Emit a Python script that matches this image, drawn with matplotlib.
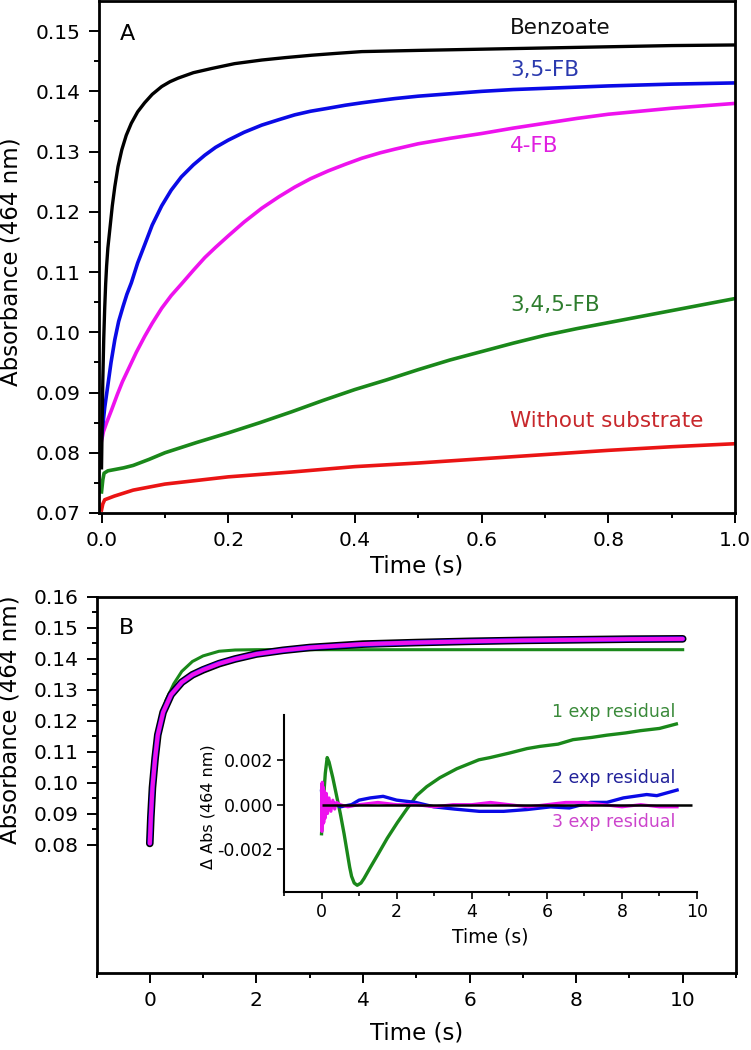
import numpy as np
import matplotlib
matplotlib.use("Agg")
import matplotlib.pyplot as plt
from matplotlib.ticker import FixedLocator, FormatStrFormatter

# ---------------- panel A : traces at 464 nm, first second ----------------
t_benzoate = [0, 0.001, 0.002, 0.0035, 0.005, 0.0065, 0.008, 0.010, 0.013, 0.017, 0.021,
              0.026, 0.032, 0.039, 0.047, 0.057, 0.068, 0.080, 0.095, 0.108, 0.121, 0.145,
              0.174, 0.21, 0.253, 0.29, 0.332, 0.37, 0.411, 0.5, 0.6, 0.7, 0.8, 0.9, 1.0]
a_benzoate = [0.0775, 0.085, 0.092, 0.099, 0.1040, 0.1080, 0.1110, 0.1140, 0.1170, 0.1210, 0.1242,
              0.1275, 0.1303, 0.1327, 0.1347, 0.1366, 0.1381, 0.1395, 0.1408, 0.1416, 0.1422, 0.1431,
              0.1438, 0.1446, 0.1452, 0.1456, 0.1460, 0.1463, 0.1466, 0.1468, 0.1470, 0.1472,
              0.1474, 0.1476, 0.1477]

t_35fb = [0, 0.002, 0.005, 0.0105, 0.015, 0.021, 0.027, 0.034, 0.040, 0.047, 0.057, 0.068,
          0.080, 0.095, 0.110, 0.126, 0.145, 0.163, 0.180, 0.2, 0.225, 0.253, 0.28, 0.305,
          0.33, 0.358, 0.385, 0.411, 0.44, 0.463, 0.5, 0.55, 0.6, 0.65, 0.7, 0.8, 0.9, 1.0]
a_35fb = [0.0825, 0.0845, 0.0875, 0.0916, 0.0950, 0.0988, 0.1018, 0.1043, 0.1063, 0.1082,
          0.1115, 0.1145, 0.1178, 0.1210, 0.1236, 0.1258, 0.1278, 0.1294, 0.1307, 0.1319,
          0.1332, 0.1344, 0.1353, 0.1361, 0.1367, 0.1372, 0.1377, 0.1381, 0.1385, 0.1388,
          0.1392, 0.1396, 0.1400, 0.1403, 0.1405, 0.1409, 0.1412, 0.1414]

t_4fb = [0, 0.003, 0.008, 0.0158, 0.025, 0.033, 0.042, 0.055, 0.068, 0.080, 0.095, 0.110,
         0.126, 0.145, 0.163, 0.180, 0.2, 0.225, 0.253, 0.28, 0.305, 0.33, 0.358, 0.385,
         0.411, 0.44, 0.463, 0.5, 0.55, 0.6, 0.65, 0.7, 0.75, 0.8, 0.85, 0.9, 0.95, 1.0]
a_4fb = [0.0820, 0.0835, 0.0850, 0.0871, 0.0897, 0.0918, 0.0938, 0.0967, 0.0993, 0.1015,
         0.1040, 0.1061, 0.1080, 0.1103, 0.1124, 0.1141, 0.1160, 0.1183, 0.1206, 0.1225,
         0.1241, 0.1255, 0.1268, 0.1279, 0.1289, 0.1298, 0.1304, 0.1313, 0.1322, 0.1330,
         0.1339, 0.1347, 0.1355, 0.1362, 0.1367, 0.1372, 0.1376, 0.1380]

t_345fb = [0, 0.002, 0.004, 0.01, 0.02, 0.035, 0.05, 0.075, 0.1, 0.15, 0.2, 0.25, 0.3,
           0.35, 0.4, 0.45, 0.5, 0.55, 0.6, 0.65, 0.7, 0.75, 0.8, 0.85, 0.9, 0.95, 1.0]
a_345fb = [0.0735, 0.0755, 0.0766, 0.0770, 0.0772, 0.0775, 0.0779, 0.0789, 0.0800, 0.0817,
           0.0833, 0.0850, 0.0868, 0.0887, 0.0905, 0.0921, 0.0938, 0.0954, 0.0968, 0.0982,
           0.0995, 0.1006, 0.1016, 0.1026, 0.1036, 0.1046, 0.1056]

t_nosub = [0, 0.002, 0.005, 0.02, 0.05, 0.1, 0.2, 0.3, 0.4, 0.5, 0.6, 0.7, 0.8, 0.9, 1.0]
a_nosub = [0.0705, 0.0715, 0.0722, 0.0728, 0.0738, 0.0748, 0.0760, 0.0768, 0.0777, 0.0783,
           0.0790, 0.0797, 0.0804, 0.0810, 0.0815]

# ---------------- panel B : benzoate trace over 10 s with fits ----------------
t_data = [0, 0.02, 0.05, 0.1, 0.15, 0.25, 0.4, 0.6, 0.8, 1.0, 1.3, 1.6, 2.0, 2.5, 3.0,
          4.0, 5.0, 6.0, 7.0, 8.0, 9.0, 10.0]
a_data = [0.0805, 0.0890, 0.0985, 0.1080, 0.1155, 0.1228, 0.1285, 0.1325, 0.1349, 0.1365,
          0.1385, 0.1400, 0.1416, 0.1428, 0.1437, 0.1448, 0.1453, 0.1457, 0.1460, 0.1462,
          0.1464, 0.1465]
a_fit2 = [0.0806, 0.0891, 0.0986, 0.1081, 0.1155, 0.1228, 0.1285, 0.1325, 0.1349, 0.1366,
          0.1386, 0.1400, 0.1416, 0.1428, 0.1437, 0.1447, 0.1453, 0.1457, 0.1460, 0.1462,
          0.1464, 0.1465]
a_fit3 = [0.0805, 0.0890, 0.0985, 0.1080, 0.1155, 0.1228, 0.1285, 0.1325, 0.1349, 0.1365,
          0.1385, 0.1400, 0.1416, 0.1428, 0.1437, 0.1448, 0.1453, 0.1457, 0.1460, 0.1462,
          0.1464, 0.1465]

t_fit1 = [0, 0.05, 0.1, 0.2, 0.3, 0.45, 0.6, 0.8, 1.0, 1.3, 1.6, 2.0, 3.0, 5.0, 10.0]
a_fit1 = [0.0805, 0.0960, 0.1060, 0.1190, 0.1265, 0.1320, 0.1360, 0.1392, 0.1410, 0.1425,
          0.1429, 0.1430, 0.1430, 0.1430, 0.1430]

# inset: residuals of the 1-, 2- and 3-exponential fits
t_res1 = [0, 0.05, 0.1, 0.15, 0.2, 0.3, 0.4, 0.5, 0.6, 0.68, 0.75, 0.8, 0.87, 0.95, 1.05,
          1.13, 1.3, 1.51, 1.75, 2.02, 2.27, 2.53, 2.8, 3.15, 3.6, 4.19, 4.49, 5.0, 5.47,
          5.82, 6.3, 6.7, 7.2, 7.6, 8.1, 8.49, 9.0, 9.45]
r_res1 = [-0.0013, 0.0002, 0.0014, 0.0021, 0.0019, 0.0012, 0.0004, -0.0004, -0.0013, -0.0021,
          -0.0028, -0.0032, -0.0035, -0.0036, -0.0035, -0.0033, -0.0028, -0.0022, -0.0015,
          -0.0008, -0.0002, 0.0004, 0.0008, 0.0012, 0.0016, 0.0020, 0.0021, 0.0023, 0.0025,
          0.0026, 0.0027, 0.0029, 0.0030, 0.0031, 0.0032, 0.0033, 0.0034, 0.0036]

t_res2 = [0, 0.05, 0.1, 0.2, 0.3, 0.5, 0.8, 1.0, 1.3, 1.64, 2.0, 2.5, 3.0, 3.55, 4.2,
          4.85, 5.47, 6.1, 6.6, 7.16, 7.6, 8.04, 8.66, 8.93, 9.47]
r_res2 = [0.0006, -0.0004, 0.0003, -0.0002, 0.0001, -0.0001, 0.0000, 0.0002, 0.0003, 0.00037,
          0.0002, 0.0001, -0.0001, -0.0002, -0.0003, -0.0003, -0.00022, -0.0001, -0.00015,
          0.0001, 0.0001, 0.0003, 0.00045, 0.0004, 0.00065]

t_res3 = [0, 0.01, 0.02, 0.03, 0.04, 0.06, 0.08, 0.1, 0.13, 0.16, 0.2, 0.25, 0.3, 0.35, 0.4,
          0.5, 0.7, 1.0, 1.5, 2.0, 2.5, 3.0, 3.5, 4.0, 4.5, 5.0, 5.5, 6.0, 6.5, 7.0, 7.5,
          8.0, 8.5, 9.0, 9.47]
r_res3 = [0.0009, -0.0012, 0.0010, -0.0009, 0.0008, -0.0008, 0.0006, -0.0006, 0.0005, -0.0004,
          0.0003, -0.0003, 0.0002, -0.0002, 0.0001, 0.0, -0.0001, 0.0, 0.0001, 0.0, 0.0,
          -0.0001, 0.0, 0.0, 0.0001, 0.0, -0.0001, 0.0, 0.0001, 0.0001, 0.0, -0.0001, 0.0,
          -0.0001, -0.0001]

BLACK = "#000000"
BLUE = "#0a0ae6"
MAGENTA = "#ee12ee"
GREEN = "#1a881a"
RED = "#ea1414"

W, H = 751, 1050
plt.rcParams["font.family"] = ["DejaVu Sans"]
plt.rcParams["axes.unicode_minus"] = False
fig = plt.figure(figsize=(W / 100, H / 100), dpi=100)


def style_axis(ax, tick_size):
    for s in ax.spines.values():
        s.set_linewidth(2.0)
    ax.tick_params(which="both", direction="out", width=1.4, labelsize=tick_size,
                   top=False, right=False)
    ax.tick_params(which="major", length=7, pad=6)
    ax.tick_params(which="minor", length=3.5)


# ---------------- panel A ----------------
axA = fig.add_axes([99 / W, 1 - 513 / H, 636 / W, 512 / H])
axA.plot(t_nosub, a_nosub, color=RED, lw=2.6)
axA.plot(t_345fb, a_345fb, color=GREEN, lw=2.6)
axA.plot(t_4fb, a_4fb, color=MAGENTA, lw=2.6)
axA.plot(t_35fb, a_35fb, color=BLUE, lw=2.6)
axA.plot(t_benzoate, a_benzoate, color=BLACK, lw=2.4)
axA.set_xlim(-0.004, 1.0)
axA.set_ylim(0.07, 0.155)
axA.xaxis.set_major_locator(FixedLocator([0.0, 0.2, 0.4, 0.6, 0.8, 1.0]))
axA.xaxis.set_minor_locator(FixedLocator([0.1, 0.3, 0.5, 0.7, 0.9]))
axA.yaxis.set_major_locator(FixedLocator(np.round(np.arange(0.07, 0.1501, 0.01), 2)))
axA.yaxis.set_minor_locator(FixedLocator(np.round(np.arange(0.075, 0.1501, 0.01), 3)))
axA.xaxis.set_major_formatter(FormatStrFormatter("%.1f"))
axA.yaxis.set_major_formatter(FormatStrFormatter("%.2f"))
style_axis(axA, 14.5)
axA.set_xlabel("Time (s)", fontsize=16.5)
axA.xaxis.set_label_coords(0.5, -0.082)
axA.set_ylabel("Absorbance (464 nm)", fontsize=16.5)
axA.yaxis.set_label_coords(-0.121, 0.49)

axA.text(0.0415, 0.1495, "A", fontsize=16, ha="center", va="center")
axA.text(0.645, 0.1505, "Benzoate", fontsize=15.5, color="#111111", va="center")
axA.text(0.645, 0.1436, "3,5-FB", fontsize=15.5, color="#2b3aae", va="center")
axA.text(0.645, 0.1309, "4-FB", fontsize=15.5, color="#e020e0", va="center")
axA.text(0.645, 0.1046, "3,4,5-FB", fontsize=15.5, color="#2e7d2e", va="center")
axA.text(0.645, 0.0853, "Without substrate", fontsize=15.5, color="#c8282c", va="center")

# ---------------- panel B ----------------
axB = fig.add_axes([96.5 / W, 1 - 973 / H, 639.5 / W, 376 / H])
axB.plot(t_fit1, a_fit1, color=GREEN, lw=2.2, zorder=2)
axB.plot(t_data, a_data, color=BLACK, lw=5.5, solid_capstyle="round", zorder=3)
axB.plot(t_data, a_fit2, color=BLUE, lw=3.6, solid_capstyle="round", zorder=4)
axB.plot(t_data, a_fit3, color=MAGENTA, lw=3.0, solid_capstyle="round", zorder=5)
axB.set_xlim(-1, 11)
axB.set_ylim(0.0387, 0.16)
axB.xaxis.set_major_locator(FixedLocator([0, 2, 4, 6, 8, 10]))
axB.xaxis.set_minor_locator(FixedLocator([-1, 1, 3, 5, 7, 9, 11]))
axB.yaxis.set_major_locator(FixedLocator(np.round(np.arange(0.08, 0.1601, 0.01), 2)))
axB.yaxis.set_minor_locator(FixedLocator(np.round(np.arange(0.085, 0.1601, 0.01), 3)))
axB.yaxis.set_major_formatter(FormatStrFormatter("%.2f"))
style_axis(axB, 14.5)
axB.set_xlabel("Time (s)", fontsize=16.5)
axB.xaxis.set_label_coords(0.5, -0.13)
axB.set_ylabel("Absorbance (464 nm)", fontsize=16.5)
axB.yaxis.set_label_coords(-0.118, 0.673)
axB.text(-0.43, 0.150, "B", fontsize=16, ha="center", va="center")

# ---------------- inset ----------------
axI = fig.add_axes([284 / W, 1 - 892 / H, 413 / W, 177 / H])
axI.set_facecolor("none")
axI.plot(t_res1, r_res1, color=GREEN, lw=2.4)
axI.plot(t_res2, r_res2, color=BLUE, lw=2.4)
axI.plot(t_res3, r_res3, color=MAGENTA, lw=2.2)
axI.hlines(0, 0, 9.87, color=BLACK, lw=1.8, zorder=5)
axI.set_xlim(-1, 10)
axI.set_ylim(-0.0039, 0.0040)
axI.spines["top"].set_visible(False)
axI.spines["right"].set_visible(False)
axI.xaxis.set_major_locator(FixedLocator([0, 2, 4, 6, 8, 10]))
axI.xaxis.set_minor_locator(FixedLocator([-1, 1, 3, 5, 7, 9]))
axI.yaxis.set_major_locator(FixedLocator([-0.002, 0.0, 0.002]))
axI.yaxis.set_major_formatter(FormatStrFormatter("%.3f"))
for s in axI.spines.values():
    s.set_linewidth(1.5)
axI.tick_params(which="both", direction="out", width=1.2, labelsize=12.5)
axI.tick_params(which="major", length=5, pad=3)
axI.tick_params(which="minor", length=3)
axI.set_xlabel("Time (s)", fontsize=13.5)
axI.xaxis.set_label_coords(0.5, -0.2)
axI.set_ylabel("\u0394 Abs (464 nm)", fontsize=11.5)
axI.yaxis.set_label_coords(-0.165, 0.48)

axI.text(9.43, 0.00413, "1 exp residual", fontsize=12.5, color="#3a8a3a",
         ha="right", va="center", clip_on=False)
axI.text(9.43, 0.00121, "2 exp residual", fontsize=12.5, color="#22229a",
         ha="right", va="center")
axI.text(9.43, -0.00076, "3 exp residual", fontsize=12.5, color="#cc44cc",
         ha="right", va="center")

fig.savefig("out.png", dpi=100)
